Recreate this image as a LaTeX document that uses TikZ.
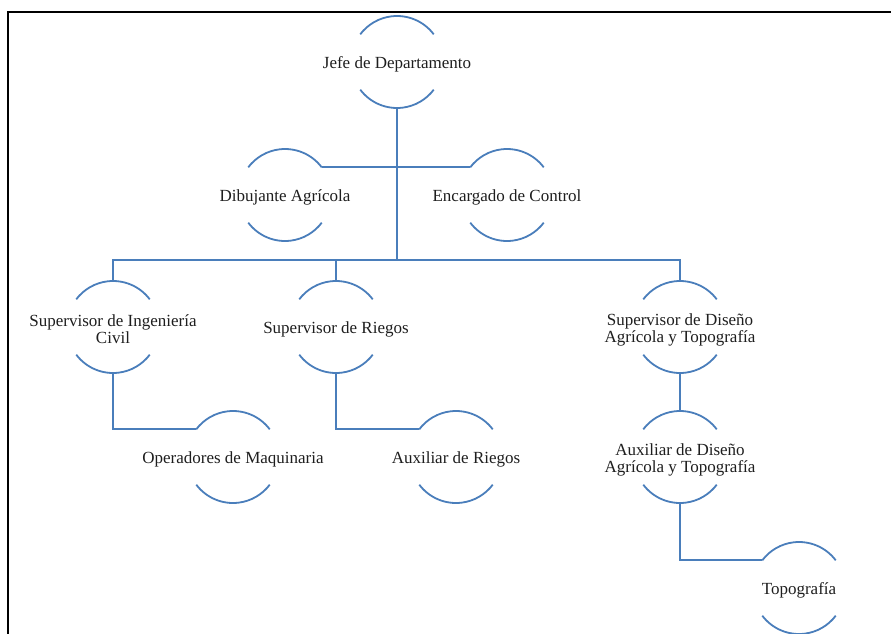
\documentclass[tikz,border=0pt]{standalone}
\usepackage{fontspec}
\setmainfont{Liberation Serif}
\definecolor{arcblue}{RGB}{74,126,187}
\definecolor{txt}{RGB}{30,30,30}
\tikzset{
  orgcirc/.style={circle, minimum size=92pt, inner sep=0pt, outer sep=0pt},
  orgtext/.style={align=center, text=txt, font=\fontsize{17}{17}\selectfont, inner sep=0pt},
  arcline/.style={draw=arcblue, line width=1.8pt},
  conn/.style={draw=arcblue, line width=1.8pt},
  frame/.style={draw=black, line width=2.2pt}
}
\newcommand\orgbox[3]{%
  \node[orgcirc] (#1) at (#2) {};
  \node[orgtext] (#1-t) at ([yshift=-2.5pt]#1.center) {#3};
  \draw[arcline] (#1.37) arc[start angle=37, end angle=143, radius=46pt];
  \draw[arcline] (#1.217) arc[start angle=217, end angle=323, radius=46pt];
}
\begin{document}
\begin{tikzpicture}[x=1pt, y=-1pt]
\useasboundingbox (0,0) rectangle (891,634);
\draw[frame] (891,12) -- (8,12) -- (8,634);

\orgbox{jefe}{397,62}{Jefe de Departamento}
\orgbox{dib}{285,195}{Dibujante Agrícola}
\orgbox{enc}{507,195}{Encargado de Control}
\orgbox{civil}{113,327}{Supervisor de Ingeniería\\Civil}
\orgbox{riegos}{336,327}{Supervisor de Riegos}
\orgbox{diseno}{680,327}{Supervisor de Diseño\\Agrícola y Topografía}
\orgbox{oper}{233,457}{Operadores de Maquinaria}
\orgbox{auxr}{456,457}{Auxiliar de Riegos}
\orgbox{auxd}{680,457}{Auxiliar de Diseño\\Agrícola y Topografía}
\orgbox{topo}{799,588}{Topografía}

\coordinate (bus) at (397,260);
\draw[conn] (jefe.south) -- (bus);
\draw[conn] (dib.37) -- (enc.143);
\draw[conn] (civil.north) |- (bus);
\draw[conn] (diseno.north) |- (bus);
\draw[conn] (riegos.north) -- (riegos.north |- bus);
\draw[conn] (civil.south) |- (oper.143);
\draw[conn] (riegos.south) |- (auxr.143);
\draw[conn] (diseno.south) -- (auxd.north);
\draw[conn] (auxd.south) |- (topo.143);
\end{tikzpicture}
\end{document}
